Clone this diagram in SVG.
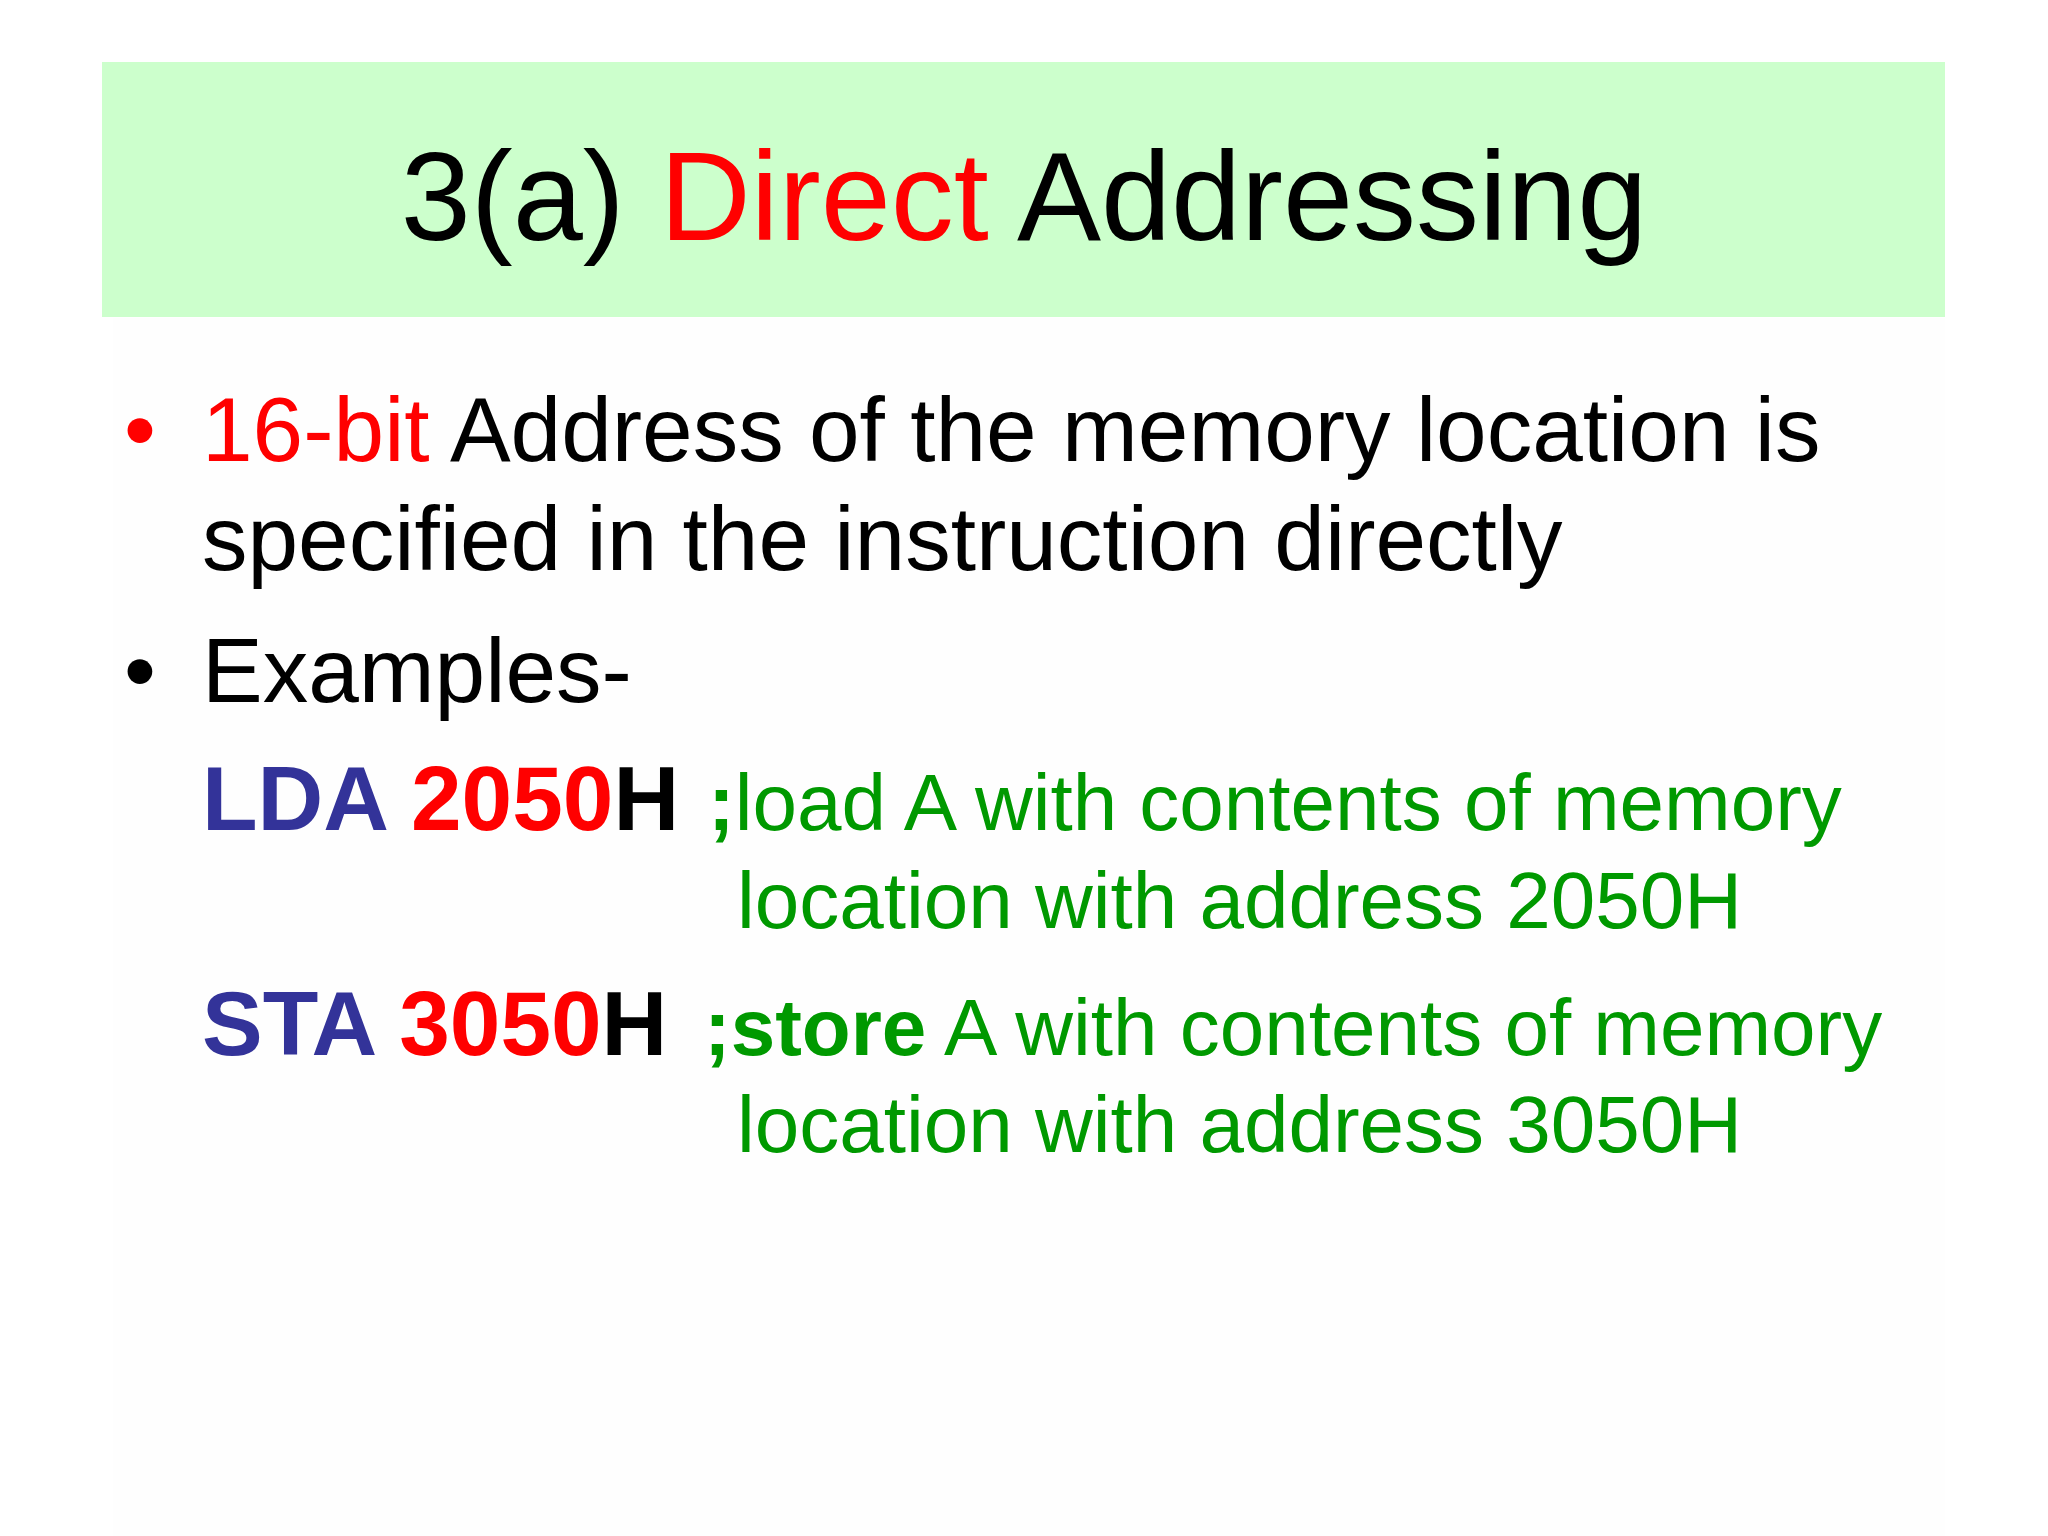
<svg xmlns="http://www.w3.org/2000/svg" width="2048" height="1536" viewBox="0 0 2048 1536">
  <style>
    text { font-family: "Liberation Sans", Arial, sans-serif; }
    .title { font-size: 126px; fill: #000000; }
    .body { font-size: 91px; fill: #000000; }
    .code { font-size: 91px; font-weight: bold; }
    .cmt { font-size: 80px; fill: #009900; }
    .red { fill: #FF0000; }
    .blue { fill: #333399; }
    .blk { fill: #000000; }
    .b { font-weight: bold; }
  </style>
  <rect x="0" y="0" width="2048" height="1536" fill="#FFFFFF"/>
  <rect x="113" y="318" width="1832" height="1218" fill="#FEFEFE"/>
  <g id="title">
    <rect x="102" y="62" width="1843" height="255" fill="#CCFFCC"/>
    <text class="title" x="1024" y="240" text-anchor="middle">3(a) <tspan class="red">Direct</tspan> Addressing</text>
  </g>
  <g id="bullet1">
    <text class="body red" x="124" y="461">•</text>
    <text class="body" x="202" y="461"><tspan class="red">16-bit</tspan> Address of the memory location is</text>
    <text class="body" x="202" y="570">specified in the instruction directly</text>
  </g>
  <g id="bullet2">
    <text class="body" x="124" y="702">•</text>
    <text class="body" x="202" y="702">Examples-</text>
  </g>
  <g id="example-lda">
    <text class="code" x="202" y="830"><tspan class="blue">LDA </tspan><tspan class="red">2050</tspan><tspan class="blk">H</tspan></text>
    <text class="cmt" x="708" y="830"><tspan class="b">;</tspan>load A with contents of memory</text>
    <text class="cmt" x="737" y="928">location with address 2050H</text>
  </g>
  <g id="example-sta">
    <text class="code" x="202" y="1055"><tspan class="blue">STA </tspan><tspan class="red">3050</tspan><tspan class="blk">H</tspan></text>
    <text class="cmt" x="704" y="1055"><tspan class="b">;store</tspan> A with contents of memory</text>
    <text class="cmt" x="737" y="1152">location with address 3050H</text>
  </g>
</svg>
